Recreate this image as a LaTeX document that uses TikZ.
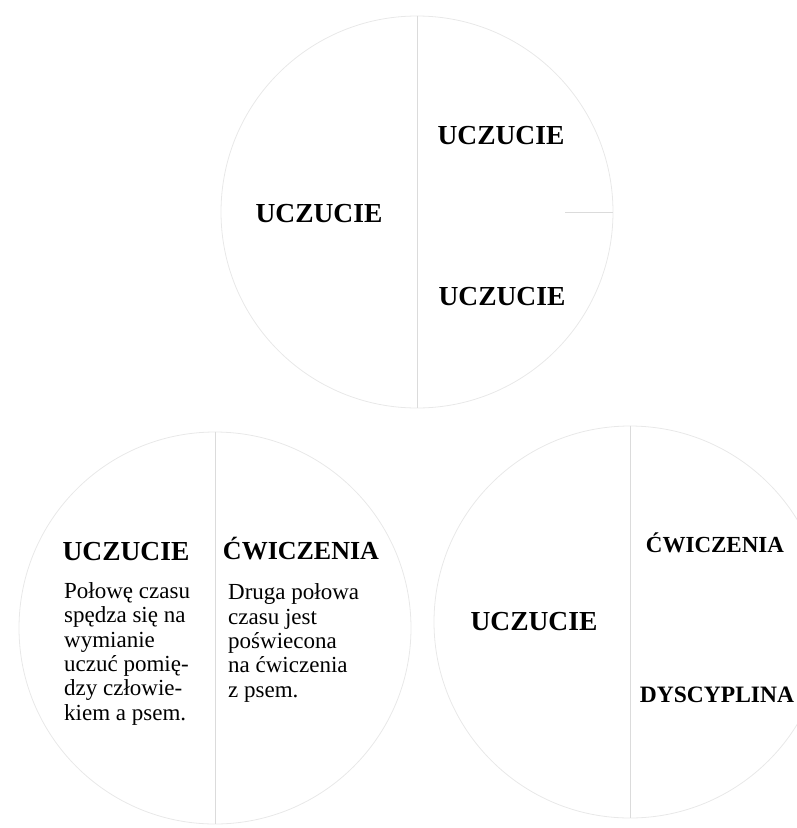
\documentclass[tikz,border=0pt]{standalone}
\usepackage{fontspec}
\setmainfont{Liberation Serif}
\usetikzlibrary{positioning}

\begin{document}
\begin{tikzpicture}[x=1pt,y=-1pt,
  ring/.style={draw=black!9,line width=0.8pt,circle,inner sep=0pt,minimum size=392pt},
  split/.style={draw=black!14,line width=0.7pt},
  head/.style={font=\bfseries\fontsize{27.5}{30}\selectfont,inner sep=0pt,anchor=base},
  subhead/.style={font=\bfseries\fontsize{23}{26}\selectfont,inner sep=0pt,anchor=base},
  body/.style={font=\fontsize{23}{24.3}\selectfont,align=left,inner sep=0pt,anchor=base west}]
\useasboundingbox (0,0) rectangle (797,828);
% three circles
\node[ring] (top)   at (417,212) {};
\node[ring] (left)  at (215,628) {};
\node[ring] (right) at (630,622) {};
\draw[split] (top.north) -- (top.south);
\draw[split] ([xshift=-48pt]top.east) -- (top.east);
\draw[split] (left.north) -- (left.south);
\draw[split] (right.north) -- (right.south);
% top circle
\node[head] (tA) at (501,144) {UCZUCIE};
\node[head] (tB) at (319,222) {UCZUCIE};
\node[head] (tC) at (502,305) {UCZUCIE};
% left circle, last baselines
\node[head] (lA) at (126,560) {UCZUCIE};
\node[head,font=\bfseries\fontsize{26}{30}\selectfont] (lB) at (301,559) {ĆWICZENIA};
\node[body] (lT) at (64,720) {Połowę czasu\\ spędza się na\\ wymianie\\ uczuć pomię-\\ dzy człowie-\\ kiem a psem.};
\node[body] (rT) at (228,697) {Druga połowa\\ czasu jest\\ poświecona\\ na ćwiczenia\\ z psem.};
% right circle
\node[subhead] (rA) at (715,552) {ĆWICZENIA};
\node[head]    (rB) at (534,630) {UCZUCIE};
\node[subhead,font=\bfseries\fontsize{23.5}{26}\selectfont] (rC) at (717,702) {DYSCYPLINA};
\end{tikzpicture}
\end{document}
